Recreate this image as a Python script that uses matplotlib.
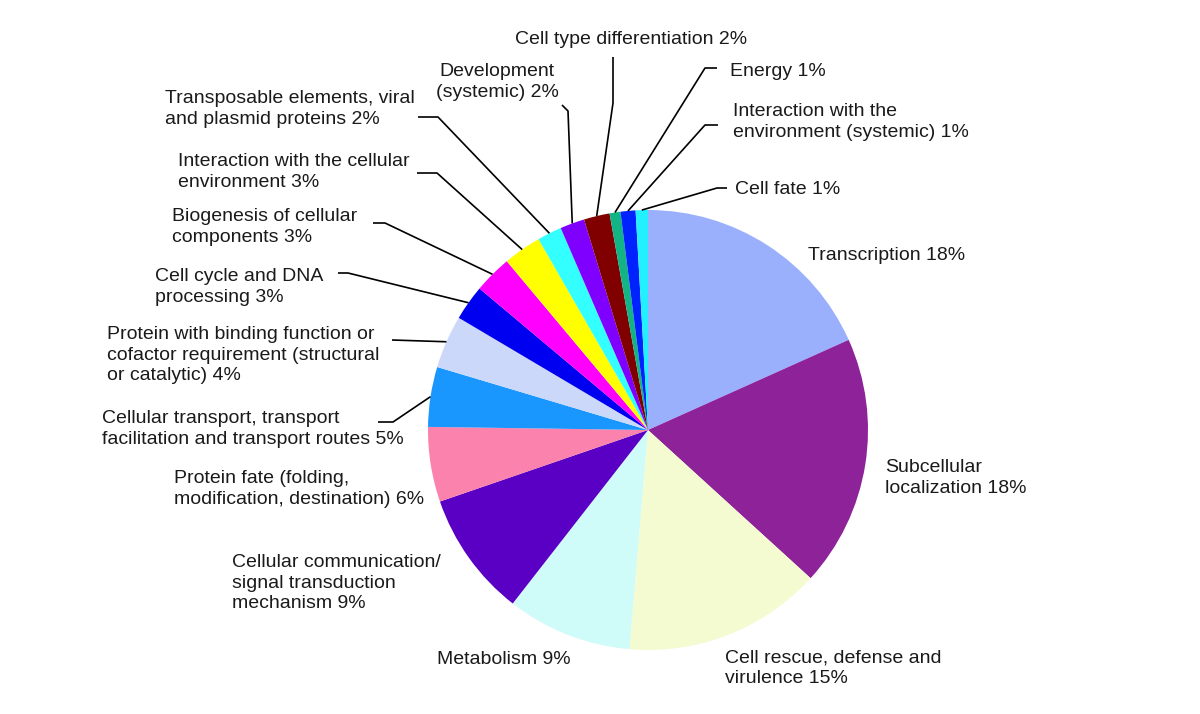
import numpy as np
import matplotlib
matplotlib.use("Agg")
import matplotlib.pyplot as plt

# ---------------- data ----------------
categories = [
    "Transcription",
    "Subcellular\nlocalization",
    "Cell rescue, defense and\nvirulence",
    "Metabolism",
    "Cellular communication/\nsignal transduction\nmechanism",
    "Protein fate (folding,\nmodification, destination)",
    "Cellular transport, transport\nfacilitation and transport routes",
    "Protein with binding function or\ncofactor requirement (structural\nor catalytic)",
    "Cell cycle and DNA\nprocessing",
    "Biogenesis of cellular\ncomponents",
    "Interaction with the cellular\nenvironment",
    "Transposable elements, viral\nand plasmid proteins",
    "Development\n(systemic)",
    "Cell type differentiation",
    "Energy",
    "Interaction with the\nenvironment (systemic)",
    "Cell fate",
]
values = [18.3, 18.5, 14.6, 9.2, 9.2, 5.5, 4.4, 3.9, 2.6, 2.8, 2.8, 1.8, 1.8, 1.9, 0.8, 1.1, 0.9]
pct_labels = [18, 18, 15, 9, 9, 6, 5, 4, 3, 3, 3, 2, 2, 2, 1, 1, 1]
colors = ["#9AB0FD", "#8E2299", "#F4FBD0", "#CFFBF8", "#5A00C4", "#FB82AC",
          "#1A96FF", "#CCD8FA", "#0000F0", "#FF00FF", "#FFFF00", "#33FFFF",
          "#8000FF", "#800000", "#12B486", "#0022FF", "#22F0FF"]

# ---------------- layout (pixels) ----------------
W, H = 1200, 714
CX, CY, R = 648, 430, 220

# text anchor (x, y center) and horizontal alignment
text_pos = [
    (808, 256, "left"),
    (885, 478, "left"),
    (725, 668, "left"),
    (437, 660, "left"),
    (232, 583, "left"),
    (174, 489, "left"),
    (102, 429, "left"),
    (107, 355, "left"),
    (155, 287, "left"),
    (172, 227, "left"),
    (178, 172, "left"),
    (165, 109, "left"),
    (497, 82, "center"),
    (515, 40, "left"),
    (730, 71, "left"),
    (733, 122, "left"),
    (735, 190, "left"),
]
# leader line points (pixels) from text to elbow; final point on pie edge computed
leaders = {
    6: [(378, 422), (393, 422)],
    7: [(392, 340), (392, 340)],
    8: [(338, 273), (348, 273)],
    9: [(373, 223), (385, 223)],
    10: [(417, 173), (437, 173)],
    11: [(418, 117), (438, 117)],
    12: [(562, 105), (568, 111)],
    13: [(613, 57), (613, 103)],
    14: [(717, 68), (705, 68)],
    15: [(718, 125), (705, 125)],
    16: [(727, 188), (717, 188)],
}

plt.rcParams['font.family'] = ['Liberation Sans', 'DejaVu Sans']

fig = plt.figure(figsize=(W / 100, H / 100), dpi=100)
ax = fig.add_axes([0, 0, 1, 1])

ax.pie(values, colors=colors, startangle=90, counterclock=False,
       center=(CX, H - CY), radius=R, frame=True,
       wedgeprops=dict(linewidth=0, antialiased=True))
ax.set_xlim(0, W)
ax.set_ylim(0, H)
ax.set_aspect('equal')
ax.axis('off')

total = sum(values)
cum = np.cumsum(values)
for i, (name, pct) in enumerate(zip(categories, pct_labels)):
    x, y, ha = text_pos[i]
    ax.text(x, H - y, f"{name} {pct}%", ha=ha, va="center", fontsize=14,
            color="#1a1a1a", linespacing=1.3, multialignment=ha if ha != "left" else "left")
    if i in leaders:
        theta = np.deg2rad(360 * (cum[i] - values[i] / 2) / total)
        px = CX + R * np.sin(theta)
        py = CY - R * np.cos(theta)
        pts = leaders[i] + [(px, py)]
        xs = [p[0] for p in pts]
        ys = [H - p[1] for p in pts]
        ax.plot(xs, ys, color="black", lw=1.2, solid_capstyle="butt")

fig.savefig("out.png", dpi=100)
